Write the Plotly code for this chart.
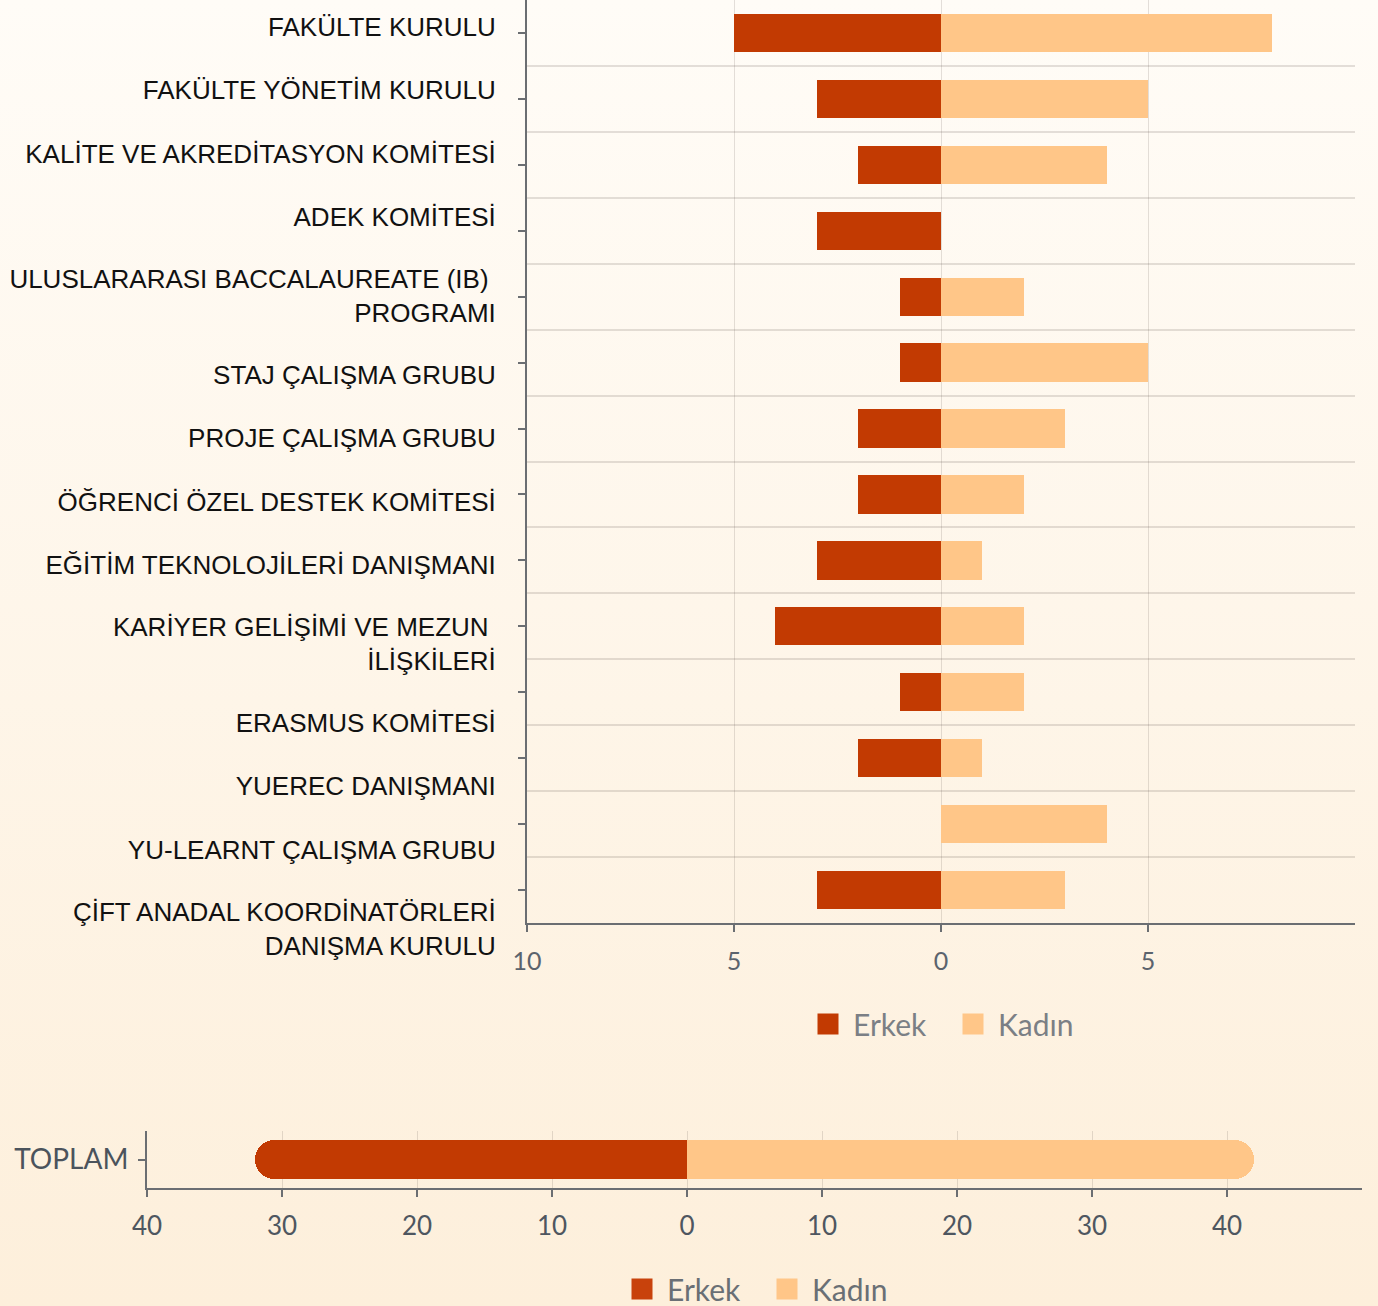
import base64
import plotly.graph_objects as go

# ---------------- data ----------------
CATEGORIES = [
    "FAKÜLTE KURULU",
    "FAKÜLTE YÖNETİM KURULU",
    "KALİTE VE AKREDİTASYON KOMİTESİ",
    "ADEK KOMİTESİ",
    "ULUSLARARASI BACCALAUREATE (IB)\u00a0<br>PROGRAMI",
    "STAJ ÇALIŞMA GRUBU",
    "PROJE ÇALIŞMA GRUBU",
    "ÖĞRENCİ ÖZEL DESTEK KOMİTESİ",
    "EĞİTİM TEKNOLOJİLERİ DANIŞMANI",
    "KARİYER GELİŞİMİ VE MEZUN\u00a0<br>İLİŞKİLERİ",
    "ERASMUS KOMİTESİ",
    "YUEREC DANIŞMANI",
    "YU-LEARNT ÇALIŞMA GRUBU",
    "ÇİFT ANADAL KOORDİNATÖRLERİ<br>DANIŞMA KURULU",
]
ERKEK = [5, 3, 2, 3, 1, 1, 2, 2, 3, 4, 1, 2, 0, 3]
KADIN = [8, 5, 4, 0, 2, 5, 3, 2, 1, 2, 2, 1, 4, 3]

TOTAL_CATEGORY = ["TOPLAM"]
TOTAL_ERKEK = [32]
TOTAL_KADIN = [42]

TOP_TICKVALS = [-10, -5, 0, 5]
TOP_TICKTEXT = ["10", "5", "0", "5"]
BOTTOM_TICKVALS = [-40, -30, -20, -10, 0, 10, 20, 30, 40]
BOTTOM_TICKTEXT = ["40", "30", "20", "10", "0", "10", "20", "30", "40"]

# ---------------- styles ----------------
W, H = 1378, 1306
C_ERKEK = "#C23A02"
C_KADIN = "#FFC688"
GRID = "rgba(90,80,70,0.17)"
AXIS = "#6b6e72"
LABEL_FONT = "Liberation Sans, Arial, sans-serif"
LATO = "Lato, sans-serif"

# pixel layout
TOP_X0, TOP_X1 = 527, 1355
TOP_Y0, TOP_Y1 = 0, 923
LABEL_AXIS_BOTTOM = 990
BOT_X0, BOT_X1 = 147, 1362
BOT_Y0, BOT_Y1 = 1131, 1188


def px_x(v):
    return v / W


def px_y(v):
    return 1 - v / H


n = len(CATEGORIES)
ypos = list(range(n))

# label flow positions (labels drift from bar centres as in the reference)
LINE_H = 32
BLOCK_STEP = 63.2
label_pos = []
cursor = 27
for lab in CATEGORIES:
    lines = lab.count("<br>") + 1
    label_pos.append(cursor + LINE_H * (lines - 1) / 2)
    cursor += LINE_H * (lines - 1) + BLOCK_STEP

plain_names = [c.replace("<br>", " ").replace("\u00a0", "") for c in CATEGORIES]

fig = go.Figure()

# top chart bars
fig.add_trace(go.Bar(
    y=ypos, x=[-v for v in ERKEK], orientation="h", name="Erkek",
    marker=dict(color=C_ERKEK, line=dict(width=0)), width=0.58,
    customdata=list(zip(plain_names, ERKEK)),
    hovertemplate="%{customdata[0]}<br>Erkek: %{customdata[1]}<extra></extra>",
    xaxis="x", yaxis="y", showlegend=False, legendgroup="top_e",
))
fig.add_trace(go.Bar(
    y=ypos, x=KADIN, orientation="h", name="Kadın",
    marker=dict(color=C_KADIN, line=dict(width=0)), width=0.58,
    customdata=list(zip(plain_names, KADIN)),
    hovertemplate="%{customdata[0]}<br>Kadın: %{customdata[1]}<extra></extra>",
    xaxis="x", yaxis="y", showlegend=False, legendgroup="top_k",
))
# invisible trace carrying the category label axis
fig.add_trace(go.Scatter(x=[None], y=[None], xaxis="x3", yaxis="y3",
                         showlegend=False, hoverinfo="skip"))

# bottom chart bars
fig.add_trace(go.Bar(
    y=TOTAL_CATEGORY, x=[-v for v in TOTAL_ERKEK], orientation="h", name="Erkek",
    marker=dict(color=C_ERKEK, line=dict(width=0), cornerradius=19), width=0.667,
    customdata=TOTAL_ERKEK,
    hovertemplate="TOPLAM<br>Erkek: %{customdata}<extra></extra>",
    xaxis="x2", yaxis="y2", showlegend=False, legendgroup="bot_e",
))
fig.add_trace(go.Bar(
    y=TOTAL_CATEGORY, x=TOTAL_KADIN, orientation="h", name="Kadın",
    marker=dict(color=C_KADIN, line=dict(width=0), cornerradius=19), width=0.667,
    customdata=TOTAL_KADIN,
    hovertemplate="TOPLAM<br>Kadın: %{customdata}<extra></extra>",
    xaxis="x2", yaxis="y2", showlegend=False, legendgroup="bot_k",
))

# legend proxies
for name, col, leg, grp, ax, ay in [
    ("Erkek", C_ERKEK, "legend", "top_e", "x", "y"),
    ("Kadın", C_KADIN, "legend", "top_k", "x", "y"),
    ("Erkek", "#C8420C", "legend2", "bot_e", "x2", "y2"),
    ("Kadın", C_KADIN, "legend2", "bot_k", "x2", "y2"),
]:
    fig.add_trace(go.Scatter(
        x=[None], y=[None], mode="markers", name=name,
        marker=dict(symbol="square", size=16, color=col, line=dict(color=col, width=5)),
        legend=leg, legendgroup=grp, xaxis=ax, yaxis=ay, hoverinfo="skip",
    ))

# background gradient
svg = ('<svg xmlns="http://www.w3.org/2000/svg" width="100" height="100" viewBox="0 0 100 100" '
       'preserveAspectRatio="none"><defs><linearGradient id="g" x1="0" y1="0" x2="0" y2="1">'
       '<stop offset="0" stop-color="#FFFCF7"/><stop offset="1" stop-color="#FDEFDB"/>'
       '</linearGradient></defs><rect width="100" height="100" fill="url(#g)"/></svg>')
bg_src = "data:image/svg+xml;base64," + base64.b64encode(svg.encode()).decode()

fig.update_layout(
    width=W, height=H,
    autosize=False,
    margin=dict(l=0, r=0, t=0, b=0, pad=0, autoexpand=False),
    paper_bgcolor="#FEF5EA",
    plot_bgcolor="rgba(0,0,0,0)",
    barmode="relative",
    bargap=0,
    showlegend=True,
    images=[dict(source=bg_src, xref="paper", yref="paper", x=0, y=1,
                 sizex=1, sizey=1, sizing="stretch", xanchor="left",
                 yanchor="top", layer="below")],
    xaxis=dict(
        domain=[px_x(TOP_X0), px_x(TOP_X1)], anchor="y", automargin=False,
        range=[-10, 10], tickvals=TOP_TICKVALS, ticktext=TOP_TICKTEXT,
        ticks="outside", ticklen=7, tickwidth=2, tickcolor=AXIS,
        showline=True, linecolor=AXIS, linewidth=2,
        showgrid=True, gridcolor=GRID, gridwidth=1, zeroline=False,
        minor=dict(tickvals=[10], showgrid=True, gridcolor=GRID, ticks=""),
        tickfont=dict(family=LATO, size=25, color="#5b636d"),
        ticklabelstandoff=8, fixedrange=True,
    ),
    yaxis=dict(
        domain=[px_y(TOP_Y1), px_y(TOP_Y0)], anchor="x", automargin=False,
        range=[n - 0.5, -0.5], tickvals=ypos,
        ticks="outside", ticklen=7, tickwidth=2, tickcolor=AXIS,
        showticklabels=False, showgrid=False, zeroline=False,
        showline=True, linecolor=AXIS, linewidth=2,
        minor=dict(tickvals=[i + 0.5 for i in range(n - 1)], showgrid=True,
                   gridcolor=GRID, gridwidth=1.5, ticks=""),
        fixedrange=True,
    ),
    xaxis3=dict(
        domain=[px_x(TOP_X0), px_x(TOP_X1)], anchor="y3", visible=False,
        range=[0, 1], showgrid=False, zeroline=False, fixedrange=True,
    ),
    yaxis3=dict(
        anchor="free", position=px_x(TOP_X0), side="left", automargin=False,
        domain=[px_y(LABEL_AXIS_BOTTOM), px_y(TOP_Y0)],
        range=[LABEL_AXIS_BOTTOM - TOP_Y0, 0], tickvals=label_pos, ticktext=CATEGORIES,
        ticks="outside", ticklen=26, tickcolor="rgba(0,0,0,0)",
        showgrid=False, zeroline=False, showline=False,
        tickfont=dict(family=LABEL_FONT, size=26, color="#111111"),
        fixedrange=True,
    ),
    xaxis2=dict(
        domain=[px_x(BOT_X0), px_x(BOT_X1)], anchor="y2", automargin=False,
        range=[-40, 50], tickvals=BOTTOM_TICKVALS, ticktext=BOTTOM_TICKTEXT,
        ticks="outside", ticklen=7, tickwidth=2, tickcolor=AXIS,
        showline=True, linecolor=AXIS, linewidth=2,
        showgrid=True, gridcolor=GRID, gridwidth=1, zeroline=False,
        minor=dict(tickvals=[50], showgrid=True, gridcolor=GRID, ticks=""),
        tickfont=dict(family=LATO, size=26, color="#4e5660"),
        ticklabelstandoff=7, fixedrange=True,
    ),
    yaxis2=dict(
        domain=[px_y(BOT_Y1), px_y(BOT_Y0)], anchor="x2", automargin=False,
        type="category", ticks="outside", ticklen=7, tickwidth=2, tickcolor=AXIS,
        showline=True, linecolor=AXIS, linewidth=2, showgrid=False,
        tickfont=dict(family=LATO, size=28, color="#4b535c"),
        ticklabelstandoff=4, fixedrange=True,
    ),
    legend=dict(
        orientation="h", x=px_x(948), y=px_y(1024), xanchor="center", yanchor="middle",
        bgcolor="rgba(0,0,0,0)", font=dict(family=LATO, size=30, color="#7b7f85"),
        itemsizing="trace", itemwidth=40, tracegroupgap=0, entrywidth=90,
    ),
    legend2=dict(
        orientation="h", x=px_x(762), y=px_y(1289), xanchor="center", yanchor="middle",
        bgcolor="rgba(0,0,0,0)", font=dict(family=LATO, size=30, color="#6a6f75"),
        itemsizing="trace", itemwidth=40, tracegroupgap=0, entrywidth=90,
    ),
)

fig.write_html("out.html", config={"displayModeBar": False},
               post_script="document.body.style.margin='0';")
